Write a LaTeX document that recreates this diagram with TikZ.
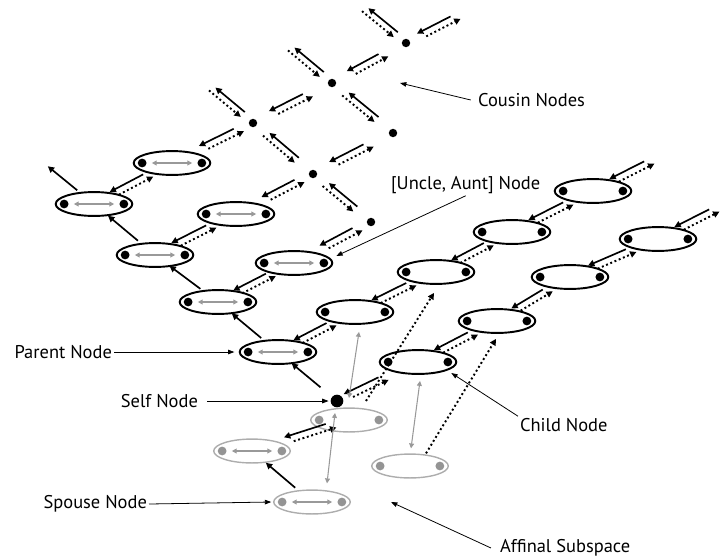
\documentclass[tikz,border=0pt]{standalone}
\usepackage{fontspec}
\setmainfont{PT Sans}
\usetikzlibrary{shapes.geometric,arrows.meta,calc}

\tikzset{
  couple/.style={ellipse,draw,line width=1.1pt,minimum width=43.6pt,minimum height=13.6pt,inner sep=0pt},
  inlaw/.style={couple,draw=black!32,line width=0.8pt},
  cousin/.style={circle,fill,inner sep=0pt,minimum size=4.8pt},
  kin/.style={line width=0.95pt,-{Triangle[length=3.6pt,width=3.6pt]}},
  kinback/.style={kin,line width=1.1pt,dash pattern=on 1.1pt off 1.5pt},
  wed/.style={black!40,line width=0.9pt,{Triangle[length=2.8pt,width=2.8pt]}-{Triangle[length=2.8pt,width=2.8pt]}},
  lbl/.style={line width=0.45pt,-{Triangle[length=3.6pt,width=2.6pt]}},
}

% sibling link: solid back to #2, dotted on to #3
\newcommand{\sibpair}[3][0]{%
  \pgfmathsetmacro{\kinS}{0.65+#1}\pgfmathsetmacro{\kinE}{0.22+#1}%
  \draw[kin] ($(#2)!\kinS!(#3)!1.9pt!90:(#3)$) -- ($(#2)!\kinE!(#3)!1.9pt!90:(#3)$);
  \pgfmathsetmacro{\kinS}{0.30+#1}\pgfmathsetmacro{\kinE}{0.74+#1}%
  \draw[kinback] ($(#2)!\kinS!(#3)!1.9pt!-90:(#3)$) -- ($(#2)!\kinE!(#3)!1.9pt!-90:(#3)$);
}
% line link: solid up to #3, dotted down to #2
\newcommand{\linepair}[3][0]{%
  \pgfmathsetmacro{\kinS}{0.27+#1}\pgfmathsetmacro{\kinE}{0.76+#1}%
  \draw[kin] ($(#2)!\kinS!(#3)!1.8pt!-90:(#3)$) -- ($(#2)!\kinE!(#3)!1.8pt!-90:(#3)$);
  \pgfmathsetmacro{\kinS}{0.80+#1}\pgfmathsetmacro{\kinE}{0.27+#1}%
  \draw[kinback] ($(#2)!\kinS!(#3)!1.8pt!90:(#3)$) -- ($(#2)!\kinE!(#3)!1.8pt!90:(#3)$);
}

\begin{document}
\begin{tikzpicture}[x=0.02cm,y=-0.02cm,font=\fontsize{10.5}{12}\selectfont]
\useasboundingbox (0,0) rectangle (726,558);

% couples
\foreach \nm/\x/\y in {n10/278/352, n20/218/302, n30/155/255, n40/94/204,
    n11/355/312, n21/294/263, n31/236/214, n41/172/163,
    n12/436/272, n13/512/232, n14/593/191,
    n01/418/362, n02/497/321, n03/570/277, n04/658/239}
{
  \node[couple] (\nm) at (\x,\y) {};
  \fill ([xshift=-17pt]\nm.center) circle (2.5pt);
  \fill ([xshift=17pt]\nm.center) circle (2.5pt);
}
\foreach \nm in {n10,n20,n30,n40,n21,n31,n41}
  \draw[wed] ([xshift=-11.5pt]\nm.center) -- ([xshift=11.5pt]\nm.center);

% self and cousins
\node[circle,fill,inner sep=0pt,minimum size=7.2pt] (self) at (337,401) {};
\foreach \nm/\x/\y in {c22/371/222, c32/313/174, c33/393/133,
    c42/253/123, c43/332/83, c44/406/43}
  \node[cousin] (\nm) at (\x,\y) {};

% affinal subspace
\node[inlaw] (a1) at (349,420) {};
\node[inlaw] (a2) at (252,451) {};
\node[inlaw] (sp) at (312,502) {};
\node[inlaw] (a3) at (410,466) {};
\foreach \nm in {a1,a2,sp,a3}
{
  \fill[black!42] ([xshift=-17pt]\nm.center) circle (2.5pt);
  \fill[black!42] ([xshift=17pt]\nm.center) circle (2.5pt);
}
\foreach \nm in {a2,sp}
  \draw[wed] ([xshift=-11.5pt]\nm.center) -- ([xshift=11.5pt]\nm.center);

% open ends
\coordinate (o40) at (34,155);
\coordinate (o14) at (674,150);
\coordinate (o04) at (739,198);
\coordinate (o44q) at (484,3);
\coordinate (o42) at (193,73);
\coordinate (o43) at (272,33);
\coordinate (o44) at (346,-6);

% parent line
\foreach \a/\b in {self/n10, n10/n20, n20/n30, n30/n40, n40/o40, sp/a2}
  \draw[kin] ($(\a)!0.28!(\b)$) -- ($(\a)!0.77!(\b)$);

% sibling links
\foreach \a/\b in {n10/n11, n20/n21, n30/n31, n40/n41, n11/n12, n12/n13, n13/n14, n14/o14,
    n01/n02, n02/n03, n03/n04, n04/o04, c32/c33, c42/c43, c43/c44}
  {\sibpair{\a}{\b}}
\foreach \a/\b in {n21/c22, n31/c32, n41/c42}
  {\sibpair[0.13]{\a}{\b}}
\sibpair[-0.12]{self}{n01}
\sibpair[0.12]{a2}{a1}
\sibpair[-0.06]{c44}{o44q}

% cousin lines
\foreach \a/\b in {c22/c32, c32/c42, c33/c43}
  {\linepair{\a}{\b}}
\foreach \a/\b in {c42/o42, c43/o43, c44/o44}
  {\linepair[-0.1]{\a}{\b}}

% marriage and in-law links
\draw[wed,line width=0.6pt] ($(n11.south)+(4,7)$) -- ($(self)+(12,-3)$);
\draw[wed,line width=0.6pt] ($(self)+(-2,12)$) -- ($(sp.north)+(15,-6)$);
\draw[wed,line width=0.6pt] ($(n01.south)+(2,6)$) -- ($(a3.north)+(1,-5)$);
\draw[kinback] ($(a1)+(17,-19)$) -- ($(n12.south)+(-2,8)$);
\draw[kinback] ($(a3.north)+(16,0)$) -- ($(n02.south)+(-1,5)$);

% labels
\coordinate (cousinpt) at (400,83);
\coordinate (affinpt) at (391,502);
\node[anchor=west,inner sep=1pt] (cousinlbl) at (476,100) {Cousin Nodes};
\node[anchor=west,inner sep=1pt] (unclelbl) at (389,185) {[Uncle, Aunt] Node};
\node[anchor=east,inner sep=1pt] (parentlbl) at (114,352) {Parent Node};
\node[anchor=east,inner sep=1pt] (selflbl) at (200,401) {Self Node};
\node[anchor=east,inner sep=1pt] (spouselbl) at (149,504) {Spouse Node};
\node[anchor=west,inner sep=1pt] (childlbl) at (518,425) {Child Node};
\node[anchor=west,inner sep=1pt] (affinlbl) at (498,548) {Affinal Subspace};

\draw[lbl] ([xshift=-3pt]cousinlbl.west) -- (cousinpt);
\draw[lbl] (unclelbl.south) -- ($(n21.east)+(3,-7)$);
\draw[lbl] (parentlbl.east) -- ([xshift=-2.5pt]n10.west);
\draw[lbl] ([xshift=4pt]selflbl.east) -- ([xshift=-1pt]self.west);
\draw[lbl] (spouselbl.east) -- ([xshift=-1pt]sp.west);
\draw[lbl] (childlbl.north west) -- ($(n01.east)+(-6,11)$);
\draw[lbl] ([xshift=-4pt]affinlbl.west) -- (affinpt);
\end{tikzpicture}
\end{document}
